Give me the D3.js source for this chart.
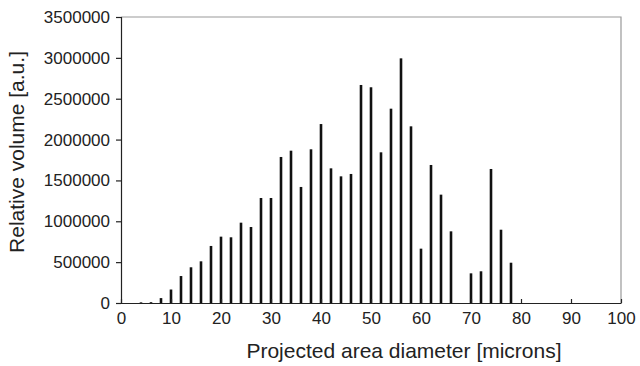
<!DOCTYPE html>
<html>
<head>
<meta charset="utf-8">
<script src="https://cdn.jsdelivr.net/npm/d3@7"></script>
<style>
  body { margin: 0; background: #fff; }
  svg { font-family: "Liberation Sans", Arial, sans-serif; }
</style>
</head>
<body>
<div id="chart"></div>
<script>
// particle size bins (microns) and relative volume
const diameters = [4, 6, 8, 10, 12, 14, 16, 18, 20, 22, 24, 26, 28, 30, 32, 34, 36, 38, 40,
    42, 44, 46, 48, 50, 52, 54, 56, 58, 60, 62, 64, 66, 68, 70, 72, 74, 76, 78];
const volumes = [8000, 10000, 60000, 165000, 330000, 437000, 510000, 698000, 812000, 804000,
    983000, 930000, 1285000, 1285000, 1787000, 1864000, 1420000, 1881000, 2190000,
    1648000, 1550000, 1579000, 2668000, 2640000, 1844000, 2378000, 2994000, 2162000,
    665000, 1689000, 1326000, 877000, 0, 363000, 388000, 1640000, 897000, 493000];
const xTicks = [0, 10, 20, 30, 40, 50, 60, 70, 80, 90, 100];
const yTicks = [0, 500000, 1000000, 1500000, 2000000, 2500000, 3000000, 3500000];

const width = 640, height = 366;
const margin = {top: 17, right: 19, bottom: 63, left: 121};

const svg = d3.select('#chart').append('svg')
    .attr('width', width)
    .attr('height', height);

const x = d3.scaleLinear().domain([0, 100]).range([margin.left, width - margin.right]);
const y = d3.scaleLinear().domain([0, 3500000]).range([height - margin.bottom, margin.top]);

// plot frame (top and right in grey)
svg.append('path')
    .attr('d', `M${x(0)},${y(3500000)}H${x(100)}V${y(0)}`)
    .attr('fill', 'none')
    .attr('stroke', '#999')
    .attr('stroke-width', 1.2);

svg.append('g')
    .selectAll('rect')
    .data(diameters)
    .enter().append('rect')
    .attr('x', (d) => x(d) - 1.3)
    .attr('width', 2.6)
    .attr('y', (d, i) => y(volumes[i]))
    .attr('height', (d, i) => y(0) - y(volumes[i]))
    .attr('fill', '#111');

const yAxis = svg.append('g')
    .attr('transform', `translate(${x(0)},0)`)
    .call(d3.axisLeft(y).tickValues(yTicks).tickSize(5).tickPadding(6).tickFormat(d3.format('d')));

const xAxis = svg.append('g')
    .attr('transform', `translate(0,${y(0)})`)
    .call(d3.axisBottom(x).tickValues(xTicks).tickSizeInner(-4).tickSizeOuter(0).tickPadding(9));

[yAxis, xAxis].forEach(g => {
    g.select('.domain').attr('stroke', '#222').attr('stroke-width', 1.2);
    g.selectAll('.tick line').attr('stroke', '#222').attr('stroke-width', 1.2);
    g.selectAll('.tick text').attr('fill', '#222').style('font-size', '17px');
});

svg.append('text')
    .attr('x', 404)
    .attr('y', 358)
    .attr('text-anchor', 'middle')
    .attr('fill', '#222')
    .style('font-size', '21px')
    .text('Projected area diameter [microns]');

svg.append('text')
    .attr('transform', `translate(24,152) rotate(-90)`)
    .attr('text-anchor', 'middle')
    .attr('fill', '#222')
    .style('font-size', '21px')
    .text('Relative volume [a.u.]');
</script>
</body>
</html>
